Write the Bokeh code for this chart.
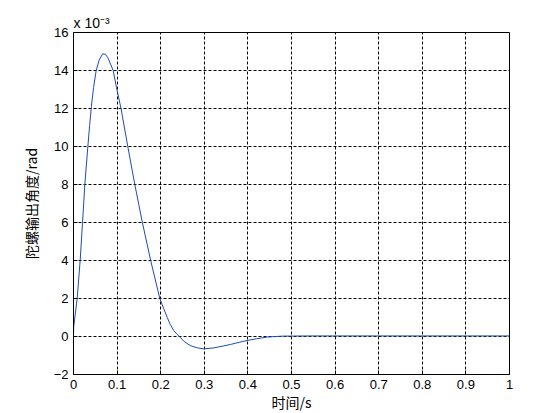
from bokeh.plotting import figure
from bokeh.models import Range1d, FixedTicker
from bokeh.embed import file_html
from bokeh.resources import INLINE

# time (s) and gyro output angle (x 1e-3 rad)
time_s = [0, 0.0004, 0.0084, 0.0153, 0.0207, 0.026, 0.0329, 0.037, 0.041, 0.046,
          0.052, 0.059, 0.067, 0.073, 0.079, 0.091, 0.0986, 0.109, 0.1245, 0.1406,
          0.158, 0.177, 0.198, 0.207, 0.215, 0.222, 0.23, 0.238, 0.245, 0.253,
          0.268, 0.284, 0.299, 0.322, 0.36, 0.381, 0.398, 0.42, 0.444, 0.479,
          0.55, 0.7, 0.85, 1.0]
angle = [0, 0.5, 2.0, 4.0, 6.0, 8.0, 10.0, 11.1, 12.1, 13.1,
         14.0, 14.56, 14.88, 14.85, 14.67, 14.0, 13.1, 12.0, 10.0, 8.0,
         6.0, 4.0, 2.0, 1.46, 1.0, 0.63, 0.31, 0.1, -0.05, -0.25,
         -0.48, -0.6, -0.65, -0.6, -0.42, -0.3, -0.21, -0.12, -0.03, 0.02,
         0.03, 0.03, 0.03, 0.03]

x_ticks = [0, 0.1, 0.2, 0.3, 0.4, 0.5, 0.6, 0.7, 0.8, 0.9, 1]
y_ticks = [-2, 0, 2, 4, 6, 8, 10, 12, 14, 16]

FONT = "Liberation Sans"
CJK = "Noto Sans CJK SC"

p = figure(frame_width=436, frame_height=342, output_backend="svg",
           toolbar_location=None,
           x_range=Range1d(0, 1), y_range=Range1d(-2, 16),
           min_border_left=73, min_border_top=32, min_border_right=30,
           min_border_bottom=36)
p.background_fill_color = "white"
p.border_fill_color = "white"
p.outline_line_color = "black"
p.outline_line_width = 1

p.line(time_s, angle, line_color="#1a4cb4", line_width=1)

for ax in (p.xaxis, p.yaxis):
    ax.major_tick_in = 4
    ax.major_tick_out = 0
    ax.minor_tick_in = 0
    ax.minor_tick_out = 0
    ax.axis_line_color = "black"
    ax.major_tick_line_color = "black"
    ax.major_label_text_font = FONT
    ax.major_label_text_font_size = "13px"
    ax.major_label_text_color = "black"
    ax.axis_label_text_font = CJK
    ax.axis_label_text_font_size = "14px"
    ax.axis_label_text_font_style = "normal"
    ax.axis_label_text_color = "black"
    ax.major_label_standoff = 5

p.xaxis.ticker = FixedTicker(ticks=x_ticks)
p.yaxis.ticker = FixedTicker(ticks=y_ticks)
p.xaxis.major_label_overrides = {v: f"{v:g}" for v in x_ticks}
p.xaxis.axis_label = "时间/s"
p.yaxis.axis_label = "陀螺输出角度/rad"
p.xaxis.axis_label_standoff = 0
p.yaxis.axis_label_standoff = 10

p.grid.grid_line_color = "black"
p.grid.grid_line_dash = "3 2"
p.grid.grid_line_width = 1

p.title.text = "x 10⁻³"
p.title.align = "left"
p.title.text_font = FONT
p.title.text_font_size = "14px"
p.title.text_font_style = "normal"
p.title.text_color = "black"
p.title.standoff = 4
p.title.offset = 0

open("out.html", "w").write(file_html(p, INLINE))
